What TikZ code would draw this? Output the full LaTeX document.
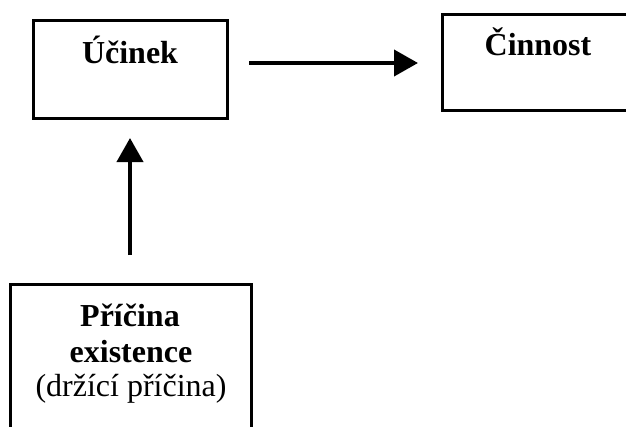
\documentclass[tikz,border=0pt]{standalone}
\usepackage{fontspec}
\setmainfont{Liberation Serif}
\usetikzlibrary{arrows.meta}
\begin{document}
\begin{tikzpicture}[x=1pt,y=-1pt,
  box/.style={draw=black,line width=3pt,minimum width=#1,inner sep=0pt},
  lbl/.style={font=\fontsize{32}{35}\selectfont,inner sep=0pt,anchor=base,align=center},
  blbl/.style={lbl,font=\fontsize{32}{35}\selectfont\bfseries},
  conn/.style={line width=4pt,-{Triangle[length=24pt 0,width=26pt 0]}}]
\useasboundingbox (0,0) rectangle (626,426);
% boxes
\node[box=194pt,minimum height=98pt] (ucinek) at (130,69) {};
\node[box=220pt,minimum height=96pt] (cinnost) at (552,62) {};
\node[box=241pt,minimum height=180pt] (pricina) at (130.5,374) {};
% labels
\node[blbl] (tu) at (130,63) {Účinek};
\node[blbl] (tc) at (538,55) {Činnost};
\node[blbl] (tp1) at (130,326) {Příčina};
\node[blbl] (tp2) at (131,362) {existence};
\node[lbl] (tp3) at (131,396) {(držící příčina)};
% connector ends
\coordinate (h1) at (249,63);
\coordinate (h2) at (418,63);
\coordinate (v1) at (130,255);
\coordinate (v2) at (130,138);
\draw[conn] (h1) -- (h2);
\draw[conn] (v1) -- (v2);
\end{tikzpicture}
\end{document}
